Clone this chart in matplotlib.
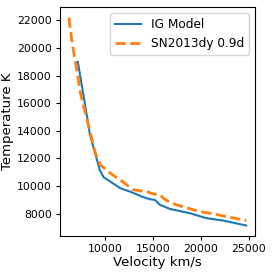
import matplotlib
matplotlib.use("Agg")
import matplotlib.pyplot as plt

# IG model (blue)
model_vel = [7120, 8260, 8360, 8780, 9130, 9410, 9820, 10520, 11560, 12600,
             13990, 14690, 15210, 15380, 15730, 16770, 18860, 20600, 22330, 24760]
model_temp = [18990, 14300, 13820, 12740, 11890, 11170, 10640, 10330, 9850, 9600,
              9200, 9050, 9000, 8880, 8640, 8350, 8040, 7680, 7510, 7150]

# SN2013dy 0.9d (orange dashed)
sn_vel = [6180, 6530, 6870, 7400, 7920, 8360, 8610, 8960, 9480, 10520, 11560,
          12950, 14340, 15030, 15730, 16080, 16770, 17810, 19900, 20940, 22680, 24760]
sn_temp = [22200, 20320, 18990, 16710, 15260, 14060, 13340, 12380, 11530, 10930, 10450,
           9730, 9600, 9440, 9360, 9130, 8810, 8570, 8160, 8040, 7800, 7510]

fig = plt.figure(figsize=(2.74, 2.74), dpi=100)
ax = fig.add_axes([0.219, 0.139, 0.712, 0.835])

ax.plot(model_vel, model_temp, color='#1f77b4', lw=1.5, label='IG Model')
ax.plot(sn_vel, sn_temp, color='#ff7f0e', lw=2, ls='--', label='SN2013dy 0.9d')

ax.set_xticks([10000, 15000, 20000, 25000])
ax.set_yticks([8000, 10000, 12000, 14000, 16000, 18000, 20000, 22000])
ax.tick_params(labelsize=7.8, length=3, pad=3)
ax.set_xlabel('Velocity km/s', fontsize=9.5, labelpad=1)
ax.set_ylabel('Temperature K', fontsize=9.5, labelpad=2)
ax.legend(loc='upper right', fontsize=8.7, handlelength=2.2)

plt.savefig('out.png', dpi=100)
